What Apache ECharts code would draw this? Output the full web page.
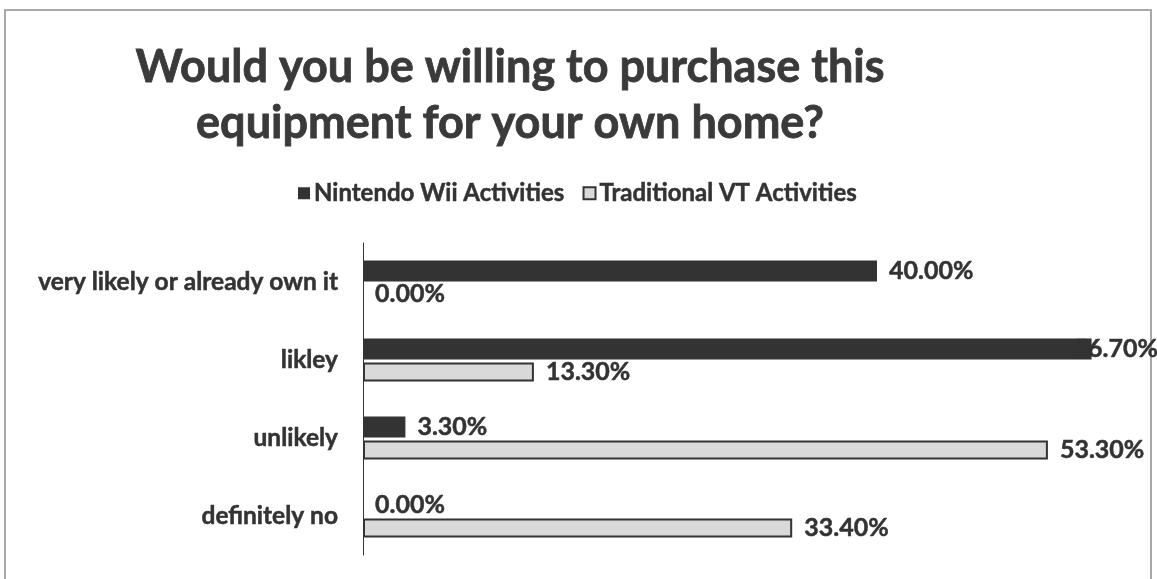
<!DOCTYPE html>
<html><head><meta charset="utf-8">
<script src="https://cdn.jsdelivr.net/npm/echarts@6/dist/echarts.min.js"></script>
<style>html,body{margin:0;padding:0;background:#fff}#c{width:1157px;height:579px}</style>
</head><body><div id="c"></div>
<script>
const categories = ["very likely or already own it", "likley", "unlikely", "definitely no"];
const seriesNames = ["Nintendo Wii Activities", "Traditional VT Activities"];
const wiiValues = [40.0, 56.7, 3.3, 0.0];
const tradValues = [0.0, 13.3, 53.3, 33.4];
const titleLines = ["Would you be willing to purchase this", "equipment for your own home?"];

const FONT = 'Lato';
const chart = echarts.init(document.getElementById('c'));
const fmt = p => p.value.toFixed(2) + '%';
const wiiData = wiiValues.map((v, i) => i === 1 ? {value: v, label: {offset: [-30, 0]}} : v);
const tradData = tradValues.map(v => v === 0 ? {value: v, itemStyle: {borderWidth: 0}} : v);
const txt = (size) => ({fontFamily: FONT, fontWeight: 'bold', fontSize: size, color: '#333',
  textBorderColor: '#333', textBorderWidth: 0.5});

chart.setOption({
  animation: false,
  backgroundColor: '#fff',
  graphic: [{type: 'rect', shape: {x: 5, y: 10, width: 1146, height: 600},
    style: {fill: 'none', stroke: '#a8a8a8', lineWidth: 2}, z: -1}],
  title: {
    text: titleLines.join('\n'), left: 505, top: 34, textAlign: 'center',
    textStyle: {fontFamily: FONT, fontWeight: 'bold', fontSize: 45, lineHeight: 56, color: '#3a3a3a',
      textBorderColor: '#3a3a3a', textBorderWidth: 0.8}
  },
  legend: {
    data: seriesNames, left: 293, top: 176, itemWidth: 12, itemHeight: 12, itemGap: 18,
    icon: 'rect',
    textStyle: Object.assign(txt(24), {padding: [0, 0, 0, -1]})
  },
  grid: {left: 363, right: 23, top: 243, bottom: 24, containLabel: false},
  xAxis: {type: 'value', min: 0, max: 60, show: false},
  yAxis: {
    type: 'category', data: categories, inverse: true,
    axisLine: {lineStyle: {color: '#333', width: 1}},
    axisTick: {show: false},
    axisLabel: Object.assign(txt(24.5), {margin: 25})
  },
  series: [
    {name: seriesNames[0], type: 'bar', data: wiiData, barWidth: 21, barGap: '15%',
     itemStyle: {color: '#333333'},
     label: Object.assign({show: true, position: 'right', distance: 12, formatter: fmt}, txt(25))},
    {name: seriesNames[1], type: 'bar', data: tradData, barWidth: 19,
     itemStyle: {color: '#d9d9d9', borderColor: '#333', borderWidth: 2},
     label: Object.assign({show: true, position: 'right', distance: 12, formatter: fmt}, txt(25))}
  ]
});
</script></body></html>
